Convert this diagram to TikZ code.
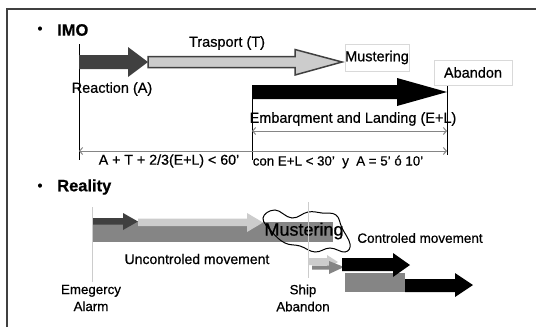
\documentclass[tikz,border=0pt]{standalone}
\usepackage{fontspec}
\setmainfont{Liberation Sans}[FakeBold=0.6]
\usetikzlibrary{arrows.meta}
\definecolor{darkgr}{HTML}{404040}
\definecolor{lightgr}{HTML}{CCCCCC}
\definecolor{midgr}{HTML}{858585}
\definecolor{boxgr}{HTML}{D9D9D9}
\begin{document}
\begin{tikzpicture}[x=1pt, y=-1pt, >={Straight Barb[length=3pt,width=7pt]}]
\tikzstyle{every node}=[inner sep=0pt, font=\fontsize{14.5}{17}\selectfont]
\tikzstyle{head}=[font=\fontsize{16.5}{20}\selectfont\bfseries, anchor=west]
\tikzstyle{boxlab}=[draw=boxgr, line width=1pt, fill=white]
\tikzstyle{tick}=[black, line width=0.8pt]
\tikzstyle{faint}=[lightgr, line width=0.8pt]
\tikzstyle{span}=[<->, midgr, line width=1pt]
\tikzstyle{small}=[font=\fontsize{13.3}{17}\selectfont, align=center]
\useasboundingbox (0,0) rectangle (536,327);
\fill[white] (0,0) rectangle (536,327);
\draw[darkgr, line width=1.5pt] (7,327) -- (7,9) -- (536,9);
% IMO
\node (b1) at (40,30) {\textbullet};
\node[head] (imo) at (57,30) {IMO};
\coordinate (ta) at (79,44);
\coordinate (tb) at (79,160);
\coordinate (tc) at (252,86);
\coordinate (td) at (252,160);
\coordinate (te) at (447,85);
\coordinate (tf) at (447,155);
\draw[tick] (ta) -- (tb);
\draw[tick] (tc) -- (td);
\draw[tick] (te) -- (tf);
\fill[darkgr] (79,55) -- (128,55) -- (128,47) -- (148,62) -- (128,77) -- (128,69) -- (79,69) -- cycle;
\filldraw[fill=lightgr, draw=darkgr, line width=1.5pt] (148,56.5) -- (295,56.5) -- (295,49.5) -- (342,62) -- (295,75) -- (295,67.5) -- (148,67.5) -- cycle;
\fill[black] (252,85) -- (397,85) -- (397,78) -- (447,92) -- (397,106) -- (397,99) -- (252,99) -- cycle;
\node (trans) at (227,43) {Trasport (T)};
\node (react) at (112,89) {Reaction (A)};
\node[boxlab, minimum width=64pt, minimum height=27pt] (must) at (377,57.5) {Mustering};
\node[boxlab, minimum width=78pt, minimum height=25pt] (aban) at (473,72.5) {Abandon};
\node (emb) at (353,119) {Embarqment and Landing (E+L)};
\coordinate (sa) at (252,131);
\coordinate (sb) at (447,131);
\coordinate (sc) at (79,151);
\coordinate (sd) at (447,151);
\draw[span] (sa) -- (sb);
\draw[span] (sc) -- (sd);
\node[font=\fontsize{14.2}{17}\selectfont] (f1) at (169,161) {A + T + 2/3(E+L) < 60'};
\node[font=\fontsize{13.3}{16}\selectfont] (f2) at (338,162) {con E+L < 30'\ \ y\ \ A = 5' ó 10'};
% Reality
\node (b2) at (40,187) {\textbullet};
\node[head] (real) at (57,187) {Reality};
\fill[midgr] (92,222) rectangle (333,242);
\fill[lightgr] (138,218.5) -- (247,218.5) -- (247,213) -- (263,222.5) -- (247,232) -- (247,226) -- (138,226) -- cycle;
\fill[darkgr] (92,218) -- (123,218) -- (123,213) -- (138,221.5) -- (123,230) -- (123,224.5) -- (92,224.5) -- cycle;
\node[font=\fontsize{18}{20}\selectfont] (must2) at (304,231) {Mustering};
\draw[black, line width=1pt] plot[smooth cycle, tension=0.7] coordinates {(263,218) (275,210) (292,218) (308,212) (322,213) (336,215) (342,228) (350,244) (345,252) (330,248) (315,252) (300,246) (285,243) (272,232)};
\coordinate (ra) at (92,207);
\coordinate (rb) at (92,282);
\coordinate (rc) at (308,202);
\coordinate (rd) at (308,278);
\draw[faint] (ra) -- (rb);
\draw[faint] (rc) -- (rd);
\fill[lightgr] (308,258) -- (327,258) -- (327,255) -- (338,262) -- (327,269) -- (327,265) -- (308,265) -- cycle;
\fill[midgr] (312,265.5) -- (329,265.5) -- (329,261) -- (344,267) -- (329,274) -- (329,269.5) -- (312,269.5) -- cycle;
\fill[midgr] (345,273) rectangle (405,292);
\fill[black] (342,258) -- (393,258) -- (393,253) -- (410,265) -- (393,277) -- (393,271) -- (342,271) -- cycle;
\fill[black] (405,279) -- (455,279) -- (455,273) -- (473,285) -- (455,297) -- (455,292) -- (405,292) -- cycle;
\node[font=\fontsize{14}{17}\selectfont] (unc) at (197,259) {Uncontroled movement};
\node[font=\fontsize{13.5}{17}\selectfont] (ctl) at (420,238) {Controled movement};
\node[small] (alarm) at (91,298) {Emegercy\\Alarm};
\node[small] (ship) at (303,298) {Ship\\Abandon};
\end{tikzpicture}
\end{document}
